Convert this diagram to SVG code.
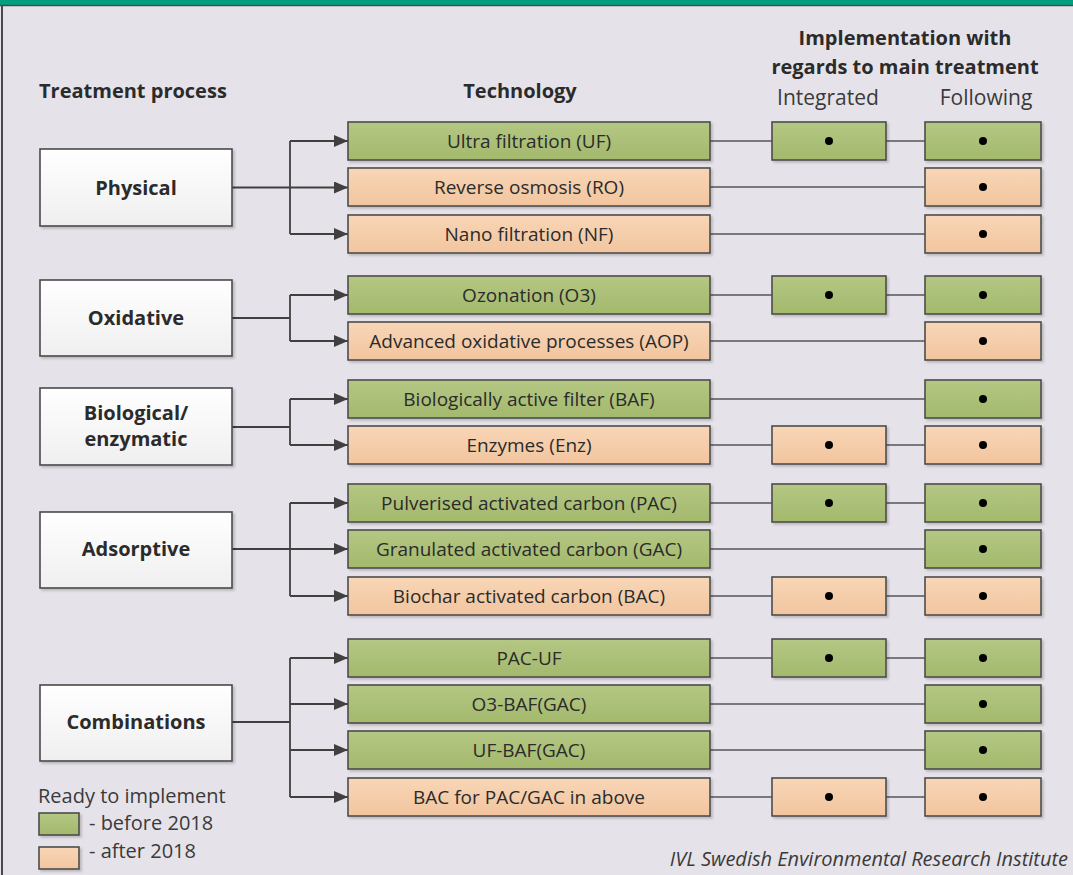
<svg xmlns="http://www.w3.org/2000/svg" width="1073" height="875" viewBox="0 0 1073 875">
  <defs>
    <linearGradient id="gGreen" x1="0" y1="0" x2="0" y2="1">
      <stop offset="0" stop-color="#b4c784"/>
      <stop offset="1" stop-color="#a3b96c"/>
    </linearGradient>
    <linearGradient id="gPeach" x1="0" y1="0" x2="0" y2="1">
      <stop offset="0" stop-color="#f8d6b7"/>
      <stop offset="1" stop-color="#f2c59f"/>
    </linearGradient>
    <linearGradient id="gWhite" x1="0" y1="0" x2="0" y2="1">
      <stop offset="0" stop-color="#ffffff"/>
      <stop offset="1" stop-color="#efefef"/>
    </linearGradient>
    <filter id="shadow" x="-10%" y="-20%" width="130%" height="160%">
      <feDropShadow dx="2" dy="2" stdDeviation="1.2" flood-color="#000" flood-opacity="0.18"/>
    </filter>
    <marker id="arrow" viewBox="0 0 14 12" refX="14" refY="6" markerWidth="14" markerHeight="12" markerUnits="userSpaceOnUse" orient="auto">
      <path d="M0,0 L14,6 L0,12 z" fill="#404040"/>
    </marker>
  </defs>
  <style>
    .txt { font-family: "Open Sans", "Liberation Sans", sans-serif; fill: #2b2b2b; }
    .head { font-size: 20px; font-weight: bold; }
    .sub { font-size: 21px; fill: #3a3a3a; }
    .proc rect { fill: url(#gWhite); stroke: #4a4a4a; stroke-width: 1.6; filter: url(#shadow); }
    .proc text { font-size: 20px; font-weight: bold; text-anchor: middle; }
    .green { fill: url(#gGreen); stroke: #4d4d4d; stroke-width: 1.6; filter: url(#shadow); }
    .peach { fill: url(#gPeach); stroke: #4d4d4d; stroke-width: 1.6; filter: url(#shadow); }
    .tech text { font-size: 19px; text-anchor: middle; }
    .legend-text { font-size: 20px; fill: #3a3a3a; }
    .dot { fill: #000; }
    .branch { fill: none; stroke: #404040; stroke-width: 1.8; }
    .link { fill: none; stroke: #555; stroke-width: 1.5; }
  </style>

  <!-- page background and frame -->
  <rect x="0" y="0" width="1073" height="875" fill="#e5e3e9"/>
  <rect x="0" y="0" width="1073" height="5" fill="#00a07e"/>
  <line x1="0" y1="5.5" x2="1073" y2="5.5" stroke="#4a4a4a" stroke-width="1.5"/>
  <line x1="2" y1="5" x2="2" y2="875" stroke="#4a4a4a" stroke-width="2"/>

  <!-- column headings -->
  <g id="headings" class="txt">
    <text class="head" x="39" y="98">Treatment process</text>
    <text class="head" x="520" y="98" text-anchor="middle">Technology</text>
    <text class="head" x="905" y="45" text-anchor="middle">Implementation with</text>
    <text class="head" x="905" y="74" text-anchor="middle">regards to main treatment</text>
    <text class="sub" x="828" y="105" text-anchor="middle">Integrated</text>
    <text class="sub" x="986" y="105" text-anchor="middle">Following</text>
  </g>

  <!-- connectors -->
  <g id="connectors">
    <!-- process to technology branches -->
    <path class="branch" d="M232,187.5 H290"/>
    <path class="branch" d="M290,141 V234"/>
    <path class="branch" d="M290,141 H348" marker-end="url(#arrow)"/>
    <path class="branch" d="M290,187.5 H348" marker-end="url(#arrow)"/>
    <path class="branch" d="M290,234 H348" marker-end="url(#arrow)"/>

    <path class="branch" d="M232,318 H290"/>
    <path class="branch" d="M290,295 V341"/>
    <path class="branch" d="M290,295 H348" marker-end="url(#arrow)"/>
    <path class="branch" d="M290,341 H348" marker-end="url(#arrow)"/>

    <path class="branch" d="M232,427 H290"/>
    <path class="branch" d="M290,399 V445"/>
    <path class="branch" d="M290,399 H348" marker-end="url(#arrow)"/>
    <path class="branch" d="M290,445 H348" marker-end="url(#arrow)"/>

    <path class="branch" d="M232,549 H290"/>
    <path class="branch" d="M290,503 V596"/>
    <path class="branch" d="M290,503 H348" marker-end="url(#arrow)"/>
    <path class="branch" d="M290,549 H348" marker-end="url(#arrow)"/>
    <path class="branch" d="M290,596 H348" marker-end="url(#arrow)"/>

    <path class="branch" d="M232,722 H290"/>
    <path class="branch" d="M290,658 V797"/>
    <path class="branch" d="M290,658 H348" marker-end="url(#arrow)"/>
    <path class="branch" d="M290,704 H348" marker-end="url(#arrow)"/>
    <path class="branch" d="M290,750 H348" marker-end="url(#arrow)"/>
    <path class="branch" d="M290,797 H348" marker-end="url(#arrow)"/>

    <!-- technology to implementation -->
    <path class="link" d="M710,141 H772 M886,141 H925"/>
    <path class="link" d="M710,187 H925"/>
    <path class="link" d="M710,234 H925"/>
    <path class="link" d="M710,295 H772 M886,295 H925"/>
    <path class="link" d="M710,341 H925"/>
    <path class="link" d="M710,399 H925"/>
    <path class="link" d="M710,445 H772 M886,445 H925"/>
    <path class="link" d="M710,503 H772 M886,503 H925"/>
    <path class="link" d="M710,549 H925"/>
    <path class="link" d="M710,596 H772 M886,596 H925"/>
    <path class="link" d="M710,658 H772 M886,658 H925"/>
    <path class="link" d="M710,704 H925"/>
    <path class="link" d="M710,750 H925"/>
    <path class="link" d="M710,797 H772 M886,797 H925"/>
  </g>

  <!-- treatment processes -->
  <g id="physical" class="proc txt">
    <rect x="40" y="149" width="192" height="77"/>
    <text x="136" y="195">Physical</text>
  </g>
  <g id="oxidative" class="proc txt">
    <rect x="40" y="280" width="192" height="76"/>
    <text x="136" y="325">Oxidative</text>
  </g>
  <g id="biological" class="proc txt">
    <rect x="40" y="388" width="192" height="77"/>
    <text x="136" y="420">Biological/</text>
    <text x="136" y="446">enzymatic</text>
  </g>
  <g id="adsorptive" class="proc txt">
    <rect x="40" y="512" width="192" height="76"/>
    <text x="136" y="556">Adsorptive</text>
  </g>
  <g id="combinations" class="proc txt">
    <rect x="40" y="685" width="192" height="76"/>
    <text x="136" y="729">Combinations</text>
  </g>

  <!-- technologies with their implementation markers -->
  <g id="uf" class="tech txt">
    <rect class="green" x="348" y="122" width="362" height="38"/>
    <text x="529" y="147.5">Ultra filtration (UF)</text>
    <rect class="green" x="772" y="122" width="114" height="38"/>
    <circle class="dot" cx="829" cy="141" r="4"/>
    <rect class="green" x="925" y="122" width="116" height="38"/>
    <circle class="dot" cx="983" cy="141" r="4"/>
  </g>
  <g id="ro" class="tech txt">
    <rect class="peach" x="348" y="168" width="362" height="38"/>
    <text x="529" y="193.5">Reverse osmosis (RO)</text>
    <rect class="peach" x="925" y="168" width="116" height="38"/>
    <circle class="dot" cx="983" cy="187" r="4"/>
  </g>
  <g id="nf" class="tech txt">
    <rect class="peach" x="348" y="215" width="362" height="38"/>
    <text x="529" y="240.5">Nano filtration (NF)</text>
    <rect class="peach" x="925" y="215" width="116" height="38"/>
    <circle class="dot" cx="983" cy="234" r="4"/>
  </g>
  <g id="o3" class="tech txt">
    <rect class="green" x="348" y="276" width="362" height="38"/>
    <text x="529" y="301.5">Ozonation (O3)</text>
    <rect class="green" x="772" y="276" width="114" height="38"/>
    <circle class="dot" cx="829" cy="295" r="4"/>
    <rect class="green" x="925" y="276" width="116" height="38"/>
    <circle class="dot" cx="983" cy="295" r="4"/>
  </g>
  <g id="aop" class="tech txt">
    <rect class="peach" x="348" y="322" width="362" height="38"/>
    <text x="529" y="347.5">Advanced oxidative processes (AOP)</text>
    <rect class="peach" x="925" y="322" width="116" height="38"/>
    <circle class="dot" cx="983" cy="341" r="4"/>
  </g>
  <g id="baf" class="tech txt">
    <rect class="green" x="348" y="380" width="362" height="38"/>
    <text x="529" y="405.5">Biologically active filter (BAF)</text>
    <rect class="green" x="925" y="380" width="116" height="38"/>
    <circle class="dot" cx="983" cy="399" r="4"/>
  </g>
  <g id="enz" class="tech txt">
    <rect class="peach" x="348" y="426" width="362" height="38"/>
    <text x="529" y="451.5">Enzymes (Enz)</text>
    <rect class="peach" x="772" y="426" width="114" height="38"/>
    <circle class="dot" cx="829" cy="445" r="4"/>
    <rect class="peach" x="925" y="426" width="116" height="38"/>
    <circle class="dot" cx="983" cy="445" r="4"/>
  </g>
  <g id="pac" class="tech txt">
    <rect class="green" x="348" y="484" width="362" height="38"/>
    <text x="529" y="509.5">Pulverised activated carbon (PAC)</text>
    <rect class="green" x="772" y="484" width="114" height="38"/>
    <circle class="dot" cx="829" cy="503" r="4"/>
    <rect class="green" x="925" y="484" width="116" height="38"/>
    <circle class="dot" cx="983" cy="503" r="4"/>
  </g>
  <g id="gac" class="tech txt">
    <rect class="green" x="348" y="530" width="362" height="38"/>
    <text x="529" y="555.5">Granulated activated carbon (GAC)</text>
    <rect class="green" x="925" y="530" width="116" height="38"/>
    <circle class="dot" cx="983" cy="549" r="4"/>
  </g>
  <g id="bac" class="tech txt">
    <rect class="peach" x="348" y="577" width="362" height="38"/>
    <text x="529" y="602.5">Biochar activated carbon (BAC)</text>
    <rect class="peach" x="772" y="577" width="114" height="38"/>
    <circle class="dot" cx="829" cy="596" r="4"/>
    <rect class="peach" x="925" y="577" width="116" height="38"/>
    <circle class="dot" cx="983" cy="596" r="4"/>
  </g>
  <g id="pac-uf" class="tech txt">
    <rect class="green" x="348" y="639" width="362" height="38"/>
    <text x="529" y="664.5">PAC-UF</text>
    <rect class="green" x="772" y="639" width="114" height="38"/>
    <circle class="dot" cx="829" cy="658" r="4"/>
    <rect class="green" x="925" y="639" width="116" height="38"/>
    <circle class="dot" cx="983" cy="658" r="4"/>
  </g>
  <g id="o3-baf" class="tech txt">
    <rect class="green" x="348" y="685" width="362" height="38"/>
    <text x="529" y="710.5">O3-BAF(GAC)</text>
    <rect class="green" x="925" y="685" width="116" height="38"/>
    <circle class="dot" cx="983" cy="704" r="4"/>
  </g>
  <g id="uf-baf" class="tech txt">
    <rect class="green" x="348" y="731" width="362" height="38"/>
    <text x="529" y="756.5">UF-BAF(GAC)</text>
    <rect class="green" x="925" y="731" width="116" height="38"/>
    <circle class="dot" cx="983" cy="750" r="4"/>
  </g>
  <g id="bac-combined" class="tech txt">
    <rect class="peach" x="348" y="778" width="362" height="38"/>
    <text x="529" y="803.5">BAC for PAC/GAC in above</text>
    <rect class="peach" x="772" y="778" width="114" height="38"/>
    <circle class="dot" cx="829" cy="797" r="4"/>
    <rect class="peach" x="925" y="778" width="116" height="38"/>
    <circle class="dot" cx="983" cy="797" r="4"/>
  </g>

  <!-- legend -->
  <g id="legend" class="txt">
    <text class="legend-text" x="38" y="803">Ready to implement</text>
    <rect class="green" x="39" y="813" width="40" height="22"/>
    <text class="legend-text" x="89" y="830">- before 2018</text>
    <rect class="peach" x="39" y="847" width="40" height="22"/>
    <text class="legend-text" x="89" y="858">- after 2018</text>
  </g>

  <!-- credit line -->
  <g id="credit" class="txt">
    <text x="1068" y="866" font-size="20" font-style="italic" text-anchor="end" fill="#3a3a3a">IVL Swedish Environmental Research Institute</text>
  </g>
</svg>
